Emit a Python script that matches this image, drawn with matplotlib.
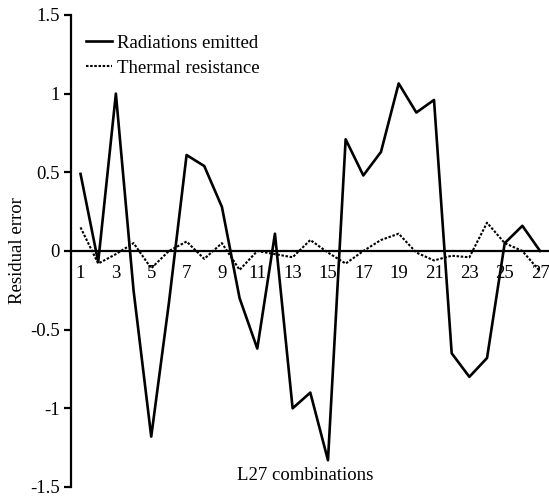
import matplotlib
matplotlib.use("Agg")
import matplotlib.pyplot as plt

plt.rcParams["font.family"] = ["Liberation Serif", "DejaVu Serif"]
plt.rcParams["axes.unicode_minus"] = False

combos = list(range(1, 28))
radiations = [0.49, -0.07, 1.0, -0.25, -1.18, -0.33, 0.61, 0.54, 0.28,
              -0.30, -0.62, 0.11, -1.0, -0.90, -1.33, 0.71, 0.48, 0.63,
              1.065, 0.88, 0.96, -0.65, -0.80, -0.68, 0.05, 0.16, 0.0]
thermal = [0.15, -0.08, -0.02, 0.05, -0.11, 0.0, 0.06, -0.05, 0.05,
           -0.12, 0.0, -0.02, -0.04, 0.07, -0.01, -0.08, 0.0, 0.07,
           0.11, -0.01, -0.06, -0.03, -0.04, 0.18, 0.05, 0.0, -0.13]
xtick_vals = list(range(1, 28, 2))
ytick_vals = [-1.5, -1, -0.5, 0, 0.5, 1, 1.5]
ytick_labels = ["-1.5", "-1", "-0.5", "0", "0.5", "1", "1.5"]

fig = plt.figure(figsize=(5.49, 4.98), dpi=100)
ax = fig.add_axes([0.1293, 0.0221, 0.8689, 0.9478])

ax.plot(combos, radiations, color="black", lw=1.9, label="Radiations emitted")
ax.plot(combos, thermal, color="black", lw=1.5, linestyle=(0, (1.2, 0.8)),
        label="Thermal resistance")

ax.set_xlim(0.46, 27.45)
ax.set_ylim(-1.5, 1.5)

for spine in ["top", "right"]:
    ax.spines[spine].set_visible(False)
ax.spines["left"].set_linewidth(1.6)
ax.spines["bottom"].set_position(("data", 0))
ax.spines["bottom"].set_linewidth(1.6)

ax.set_yticks(ytick_vals)
ax.set_yticklabels(ytick_labels)
ax.set_xticks(xtick_vals)
ax.tick_params(axis="y", direction="out", length=5, width=1.6, labelsize=13.5, pad=3)
ax.tick_params(axis="x", length=0, labelsize=13.5, pad=10)

ax.set_ylabel("Residual error", fontsize=13.5, labelpad=3)
ax.text(0.49, 0.0254, "L27 combinations", transform=ax.transAxes,
        ha="center", va="center", fontsize=13.5)

ax.legend(loc="upper left", bbox_to_anchor=(0.031, 0.958), frameon=False,
          fontsize=13.5, handlelength=1.4, handletextpad=0.25,
          labelspacing=0.4, borderpad=0, borderaxespad=0)

fig.savefig("out.png", dpi=100)
